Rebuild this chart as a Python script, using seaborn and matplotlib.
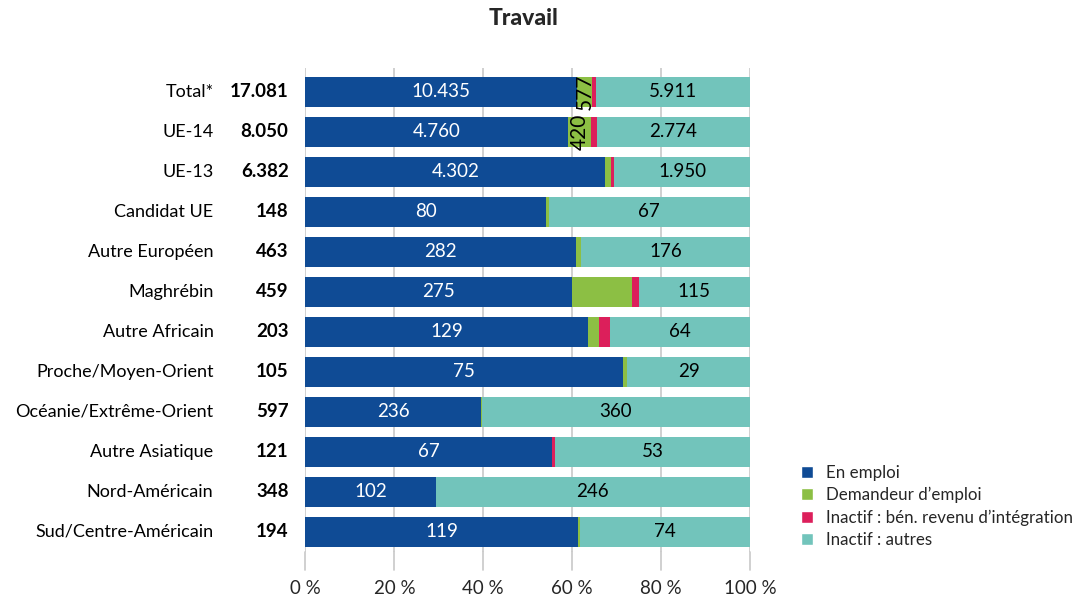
import numpy as np
import pandas as pd
import seaborn as sns
import matplotlib.pyplot as plt
from matplotlib.patches import Patch

categories = ["Total*", "UE-14", "UE-13", "Candidat UE", "Autre Européen", "Maghrébin",
              "Autre Africain", "Proche/Moyen-Orient", "Océanie/Extrême-Orient",
              "Autre Asiatique", "Nord-Américain", "Sud/Centre-Américain"]
totals = [17081, 8050, 6382, 148, 463, 459, 203, 105, 597, 121, 348, 194]
en_emploi = [10435, 4760, 4302, 80, 282, 275, 129, 75, 236, 67, 102, 119]
demandeur = [577, 420, 80, 1, 5, 62, 5, 1, 1, 0, 0, 1]
inactif_ri = [158, 96, 50, 0, 0, 7, 5, 0, 0, 1, 0, 0]
inactif_autres = [5911, 2774, 1950, 67, 176, 115, 64, 29, 360, 53, 246, 74]

series = ["En emploi", "Demandeur d\u2019emploi", "Inactif\u202f: bén. revenu d\u2019intégration", "Inactif\u202f: autres"]
colors = ["#0f4b95", "#8cbf44", "#dc1f5b", "#72c4bb"]

sns.set_theme(style="white")
plt.rcParams['font.family'] = ['Lato', 'DejaVu Sans']

df = pd.DataFrame({"cat": categories, "total": totals, "s0": en_emploi, "s1": demandeur,
                   "s2": inactif_ri, "s3": inactif_autres})
cols = ["s0", "s1", "s2", "s3"]
pct = df[cols].div(df[cols].sum(axis=1), axis=0) * 100
cum = pct.cumsum(axis=1)

fig = plt.figure(figsize=(10.83, 5.97), dpi=100)
ax = fig.add_axes([0.282, 0.0754, 0.4105, 0.8107])

# stacked bars: draw cumulative totals from longest to shortest
for i in range(3, -1, -1):
    sns.barplot(x=cum[cols[i]], y=df["cat"], color=colors[i], orient="h",
                width=0.73, ax=ax, zorder=3, saturation=1, linewidth=0)

def fmt(v):
    return f"{v:,}".replace(",", ".")

fs = 13.5
for j, row in df.iterrows():
    c0 = cum.loc[j, "s0"]
    ax.text(c0 / 2, j, fmt(row["s0"]), ha="center", va="center", color="white", fontsize=fs, zorder=5)
    c2 = cum.loc[j, "s2"]
    ax.text((c2 + 100) / 2, j, fmt(row["s3"]), ha="center", va="center", color="black", fontsize=fs, zorder=5)
    if j < 2:
        ax.text((c0 + cum.loc[j, "s1"]) / 2, j, fmt(row["s1"]), ha="center", va="center",
                color="black", fontsize=15, rotation=90, zorder=5)
    ax.text(-0.207, j, row["cat"], transform=ax.get_yaxis_transform(), ha="right", va="center",
            fontsize=13, color="black")
    ax.text(-0.038, j, fmt(row["total"]), transform=ax.get_yaxis_transform(), ha="right", va="center",
            fontsize=13.5, fontweight="bold", color="black")

ax.set_xlim(0, 100)
ax.set_ylim(11.5, -0.6)
ax.set_xticks([0, 20, 40, 60, 80, 100])
ax.set_xticklabels([f"{t}\u202f%" for t in [0, 20, 40, 60, 80, 100]], fontsize=13.5)
ax.set_yticks([])
ax.set_xlabel("")
ax.set_ylabel("")
ax.grid(axis="x", color="#c8c8c8", linewidth=1.2, zorder=0)
ax.tick_params(axis="x", length=0, pad=20)
for s in ax.spines.values():
    s.set_visible(False)
# gridlines continue a bit below the last bar
for t in [0, 20, 40, 60, 80, 100]:
    ax.plot([t, t], [11.5, 11.95], color="#c8c8c8", linewidth=1.2, clip_on=False, zorder=0)

fig.suptitle("Travail", x=0.483, y=0.987, fontsize=16.5, fontweight="black")

handles = [Patch(facecolor=c, label=l) for c, l in zip(colors, series)]
fig.legend(handles=handles, loc="upper left", bbox_to_anchor=(0.733, 0.233), frameon=False,
           fontsize=12.2, handlelength=0.75, handleheight=0.75, handletextpad=0.75, labelspacing=0.36,
           borderaxespad=0)

fig.savefig("out.png", dpi=100)
